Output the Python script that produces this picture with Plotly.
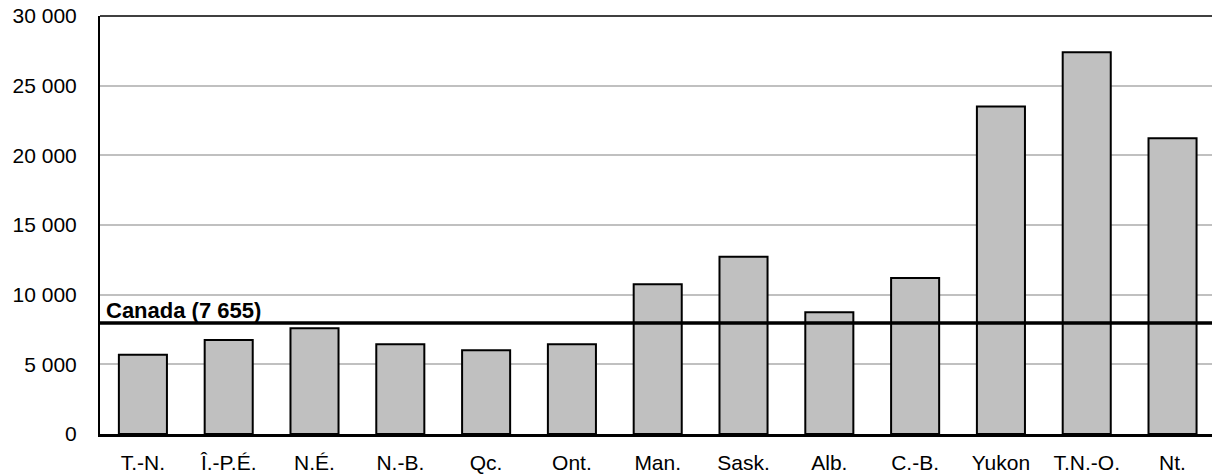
import plotly.graph_objects as go

categories = ["T.-N.", "Î.-P.É.", "N.É.", "N.-B.", "Qc.", "Ont.", "Man.", "Sask.",
              "Alb.", "C.-B.", "Yukon", "T.N.-O.", "Nt."]
values = [5690, 6750, 7590, 6440, 6010, 6440, 10745, 12730, 8735, 11200, 23500, 27400, 21230]
canada_line = 7970
canada_label = "Canada (7 655)"
y_ticks = [0, 5000, 10000, 15000, 20000, 25000, 30000]

FONT = "Liberation Sans, Arial, sans-serif"

fig = go.Figure()
fig.add_trace(go.Bar(
    x=categories, y=values,
    marker=dict(color="#c0c0c0", line=dict(color="black", width=2)),
    showlegend=False,
))

fig.add_shape(type="line", xref="paper", x0=0, x1=1, yref="y",
              y0=canada_line, y1=canada_line,
              line=dict(color="black", width=3.5), layer="above")
# top border
fig.add_shape(type="line", xref="paper", x0=0, x1=1, yref="paper", y0=1, y1=1,
              line=dict(color="black", width=1.5), layer="above")

fig.add_annotation(x=0, xref="paper", xanchor="left", xshift=4,
                   y=canada_line, yref="y", yanchor="bottom", yshift=-2,
                   text="<b>" + canada_label + "</b>", showarrow=False,
                   font=dict(family=FONT, size=22, color="black"))

fig.update_layout(
    width=1212, height=474,
    margin=dict(l=100, r=0, t=16, b=40, autoexpand=False),
    plot_bgcolor="white", paper_bgcolor="white",
    bargap=0.44,
    separators=", ",
    font=dict(family=FONT, size=21, color="black"),
)
fig.update_xaxes(
    type="category", range=[-0.5, 12.46], automargin=False,
    showline=True, linecolor="black", linewidth=3,
    ticks="", showgrid=False, ticklabelstandoff=8,
    tickfont=dict(family=FONT, size=21, color="black"),
)
fig.update_yaxes(
    range=[0, 30000], tickvals=y_ticks, tickformat=",d", automargin=False,
    showline=True, linecolor="black", linewidth=2,
    showgrid=True, gridcolor="#c0c0c0", gridwidth=1.5,
    ticks="", ticklabelstandoff=17, zeroline=False,
    tickfont=dict(family=FONT, size=21, color="black"),
)

fig.write_html("out.html",
               config={"displayModeBar": False},
               post_script="document.body.style.margin='0px';document.body.style.overflow='hidden';")
